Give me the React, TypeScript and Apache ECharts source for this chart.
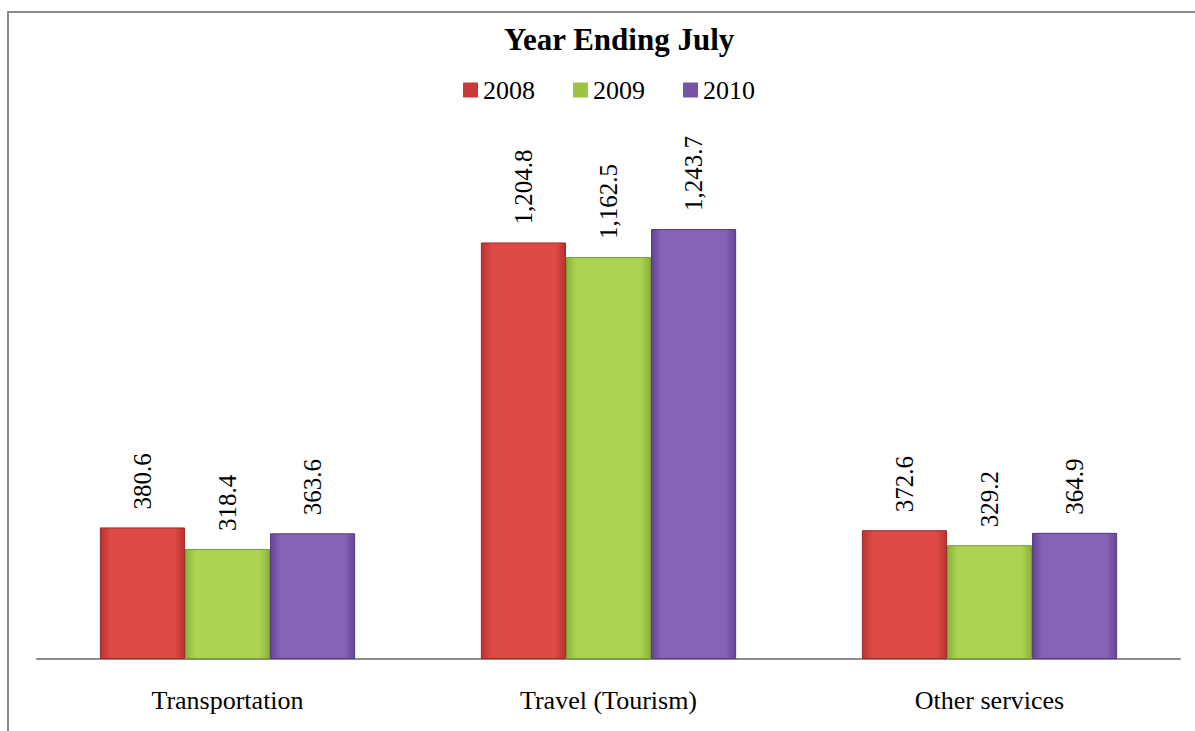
import React, { useEffect, useRef } from "react";
import * as echarts from "echarts";

const categories = ["Transportation", "Travel (Tourism)", "Other services"];
const seriesNames = ["2008", "2009", "2010"];
const values2008 = [380.6, 1204.8, 372.6];
const values2009 = [318.4, 1162.5, 329.2];
const values2010 = [363.6, 1243.7, 364.9];

const palettes = [
  { mid: "#DE4A46", edge: "#B9332F", border: "#9E2A27", legend: "#C83A37" },
  { mid: "#ACD351", edge: "#8AB239", border: "#779A30", legend: "#9BC346" },
  { mid: "#8762B6", edge: "#664594", border: "#563A80", legend: "#7653A6" },
];

const FONT = "Liberation Serif, Times New Roman, serif";

export default function App() {
  const ref = useRef<HTMLDivElement>(null);
  useEffect(() => {
    if (!ref.current) return;
    const chart = echarts.init(ref.current, undefined, { renderer: "svg" });
    const data = [values2008, values2009, values2010];
    const fmt = (v: number) =>
      v.toLocaleString("en-US", { minimumFractionDigits: 1, maximumFractionDigits: 1 });
    chart.setOption({
      animation: false,
      backgroundColor: "#fff",
      textStyle: { fontFamily: FONT },
      title: {
        text: "Year Ending July",
        left: 499,
        top: 19,
        textStyle: { fontFamily: FONT, fontSize: 31, fontWeight: "bold", color: "#000" },
      },
      legend: {
        top: 72,
        left: 458,
        itemWidth: 15,
        itemHeight: 15,
        itemGap: 38,
        icon: "rect",
        textStyle: { fontFamily: FONT, fontSize: 26, color: "#000" },
        data: seriesNames.map((n, i) => ({
          name: n,
          itemStyle: { color: palettes[i].legend, borderWidth: 0 },
        })),
      },
      grid: { left: 37, right: 15, bottom: 72, top: 175, containLabel: false },
      xAxis: {
        type: "category",
        data: categories,
        axisTick: { show: false },
        axisLine: { lineStyle: { color: "#8c8c8c", width: 2 } },
        axisLabel: { fontFamily: FONT, fontSize: 26, color: "#000", margin: 28 },
      },
      yAxis: {
        type: "value",
        min: 0,
        max: 1400,
        show: false,
        splitLine: { show: false },
      },
      graphic: [
        {
          type: "line",
          shape: { x1: 7, y1: 12, x2: 1195, y2: 12 },
          style: { stroke: "#8a8a8a", lineWidth: 2 },
        },
        {
          type: "line",
          shape: { x1: 8, y1: 12, x2: 8, y2: 731 },
          style: { stroke: "#8a8a8a", lineWidth: 2 },
        },
      ],
      series: seriesNames.map((n, i) => ({
        name: n,
        type: "bar",
        barGap: "0%",
        barCategoryGap: "33%",
        data: data[i],
        itemStyle: {
          color: new echarts.graphic.LinearGradient(0, 0, 1, 0, [
            { offset: 0, color: palettes[i].edge },
            { offset: 0.12, color: palettes[i].mid },
            { offset: 0.88, color: palettes[i].mid },
            { offset: 1, color: palettes[i].edge },
          ]),
          borderColor: palettes[i].border,
          borderWidth: 1,
        },
        label: {
          show: true,
          position: "top",
          rotate: 90,
          align: "left",
          verticalAlign: "middle",
          distance: 18,
          fontFamily: FONT,
          fontSize: 25,
          color: "#000",
          formatter: (p: any) => fmt(p.value),
        },
      })),
    });
    return () => chart.dispose();
  }, []);
  return (
    <div
      ref={ref}
      style={{ position: "fixed", left: 0, top: 0, width: 1195, height: 731 }}
    />
  );
}
